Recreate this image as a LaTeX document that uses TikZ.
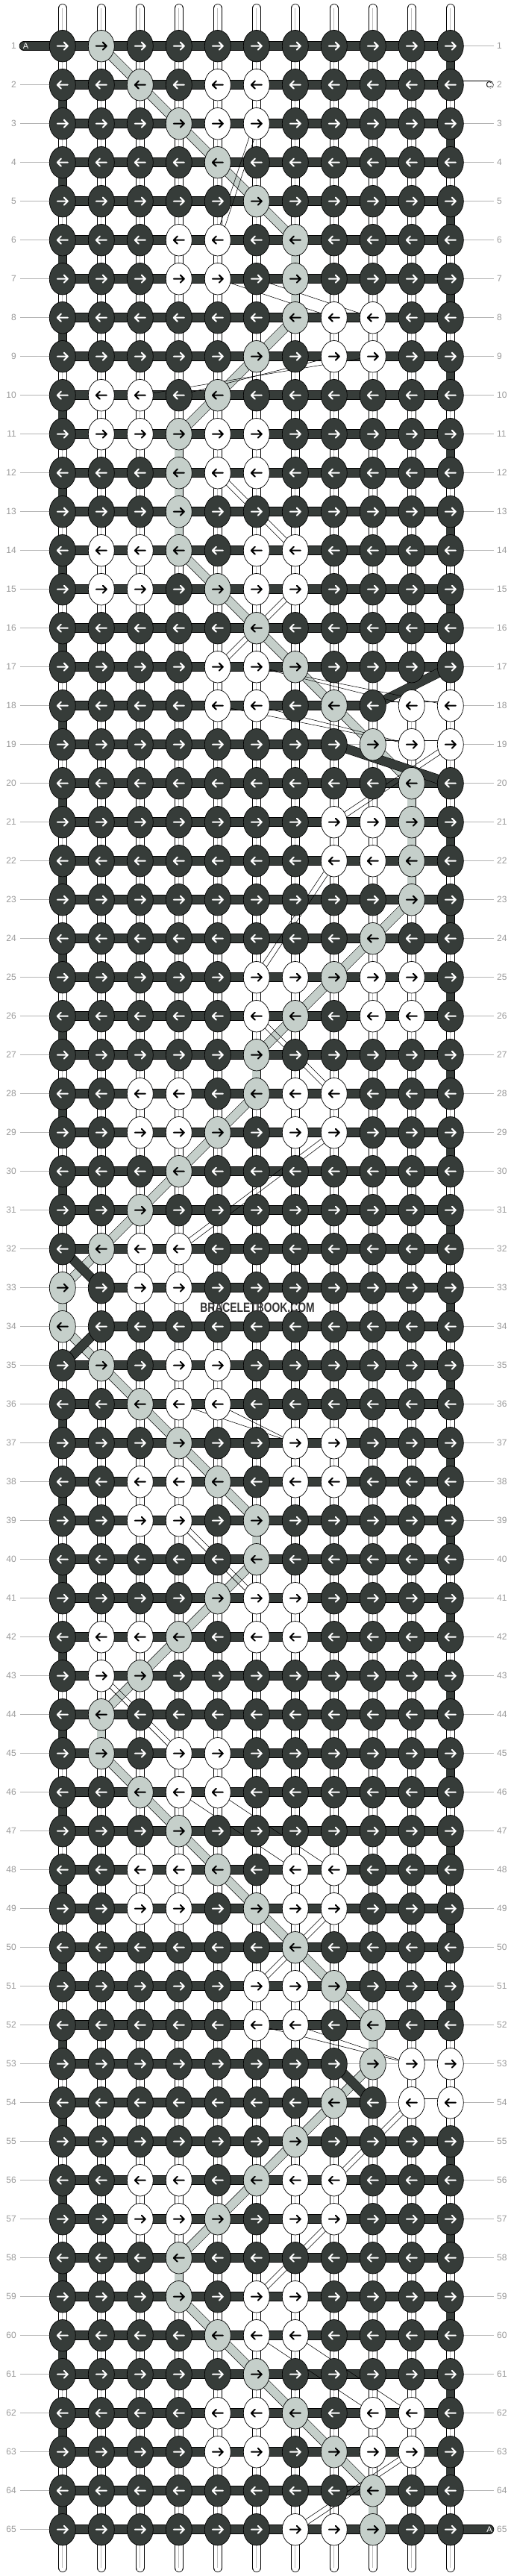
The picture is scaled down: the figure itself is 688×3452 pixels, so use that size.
\documentclass[tikz,border=0pt]{standalone}
\usepackage{fontspec}
\setmainfont{Liberation Sans}
\usetikzlibrary{calc,shapes.geometric}
\definecolor{dk}{HTML}{363C39}
\definecolor{gy}{HTML}{C5CFCA}
\definecolor{lb}{HTML}{9A9A9A}
\definecolor{tk}{HTML}{B4B4B4}
\definecolor{midln}{HTML}{BDBDBD}
\definecolor{wm}{HTML}{333333}
% horizontal bar exceptions (row-col of left knot)
\expandafter\def\csname hb-18-9\endcsname{W}
\expandafter\def\csname hb-18-10\endcsname{W}
\expandafter\def\csname hb-19-8\endcsname{N}
\expandafter\def\csname hb-19-9\endcsname{W}
\expandafter\def\csname hb-19-10\endcsname{W}
\expandafter\def\csname hb-33-1\endcsname{N}
\expandafter\def\csname hb-34-1\endcsname{N}
\expandafter\def\csname hb-53-8\endcsname{N}
\expandafter\def\csname hb-53-9\endcsname{N}
\expandafter\def\csname hb-53-10\endcsname{W}
\expandafter\def\csname hb-54-9\endcsname{N}
\expandafter\def\csname hb-54-10\endcsname{W}
\newcommand\gcols{2,3,4,5,6,7,7,7,6,5,4,4,4,4,5,6,7,8,9,10,10,10,10,9,8,7,6,6,5,4,3,2,1,1,2,3,4,5,6,6,5,4,3,2,2,3,4,5,6,7,8,9,9,8,7,6,5,4,4,5,6,7,8,9,9}
\newcommand\thinband[4]{%
  \draw[thinln] ($(p-#1-#2)!3.5pt!90:(p-#3-#4)$) -- ($(p-#3-#4)!3.5pt!-90:(p-#1-#2)$);
  \draw[thinln] ($(p-#1-#2)!3.5pt!-90:(p-#3-#4)$) -- ($(p-#3-#4)!3.5pt!90:(p-#1-#2)$);}
\newcommand\thinlink[4]{\draw[thinln] (p-#1-#2) -- (p-#3-#4);}
\tikzset{
  knotbase/.style={ellipse, draw=black, line width=0.7pt, minimum width=35pt, minimum height=42.5pt, inner sep=0pt},
  knotD/.style={knotbase, fill=dk},
  knotW/.style={knotbase, fill=white},
  knotG/.style={knotbase, fill=gy},
  arrD/.style={draw=white, line width=2pt, line cap=round, line join=round},
  arrW/.style={draw=black, line width=2pt, line cap=round, line join=round},
  arrG/.style={arrW},
  hbD/.style={draw=black, line width=0.6pt, double=dk, double distance=11.3pt},
  hbW/.style={draw=black, line width=0.6pt, double=white, double distance=10pt},
  hbN/.style={draw=tk, line width=0.8pt},
  vW/.style={draw=black, line width=0.6pt, double=white, double distance=10.5pt},
  vmid/.style={draw=midln, line width=0.7pt},
  bband/.style={draw=black, line width=0.6pt, double=gy, double distance=11pt},
  thinln/.style={draw=black, line width=0.55pt},
  tick/.style={draw=tk, line width=0.8pt},
  lbl/.style={text=lb, font=\fontsize{12}{12}\selectfont, inner sep=0pt},
  tailtxt/.style={font=\fontsize{11}{11}\selectfont, inner sep=0pt},
}
\begin{document}
\begin{tikzpicture}[x=1pt,y=-1pt]
\useasboundingbox (0,0) rectangle (688,3452);
\fill[white] (0,0) rectangle (688,3452);
% grid coordinates
\foreach \r in {1,...,65}{
  \foreach \c in {1,...,11}{
    \coordinate (p-\r-\c) at ({83.8+52*(\c-1)},{61.7+52*(\r-1)});
  }
}
\foreach \c in {1,...,11}{
  \coordinate (t-\c) at ({83.8+52*(\c-1)},11);
  \coordinate (b-\c) at ({83.8+52*(\c-1)},3441);
}
% row labels and ticks
\foreach \r in {1,...,65}{
  \pgfmathsetmacro\yy{61.7+52*(\r-1)}
  \node[lbl, anchor=east] (ll-\r) at (22,\yy) {\r};
  \node[lbl, anchor=west] (lr-\r) at (666,\yy) {\r};
  \ifnum\r>1 \draw[tick] ([xshift=5pt]ll-\r.east) -- (p-\r-1); \fi
  \ifnum\r=2 \else\ifnum\r=65 \else \draw[tick] (p-\r-11) -- ([xshift=-4pt]lr-\r.west); \fi\fi
}
% top and bottom string ends
\foreach \c in {1,...,11}{
  \draw[vW, line cap=round] (t-\c) -- (p-1-\c);
  \draw[vmid] (t-\c) -- (p-1-\c);
  \draw[vW, line cap=round] (p-65-\c) -- (b-\c);
  \draw[vmid] (p-65-\c) -- (b-\c);
}
% vertical segments between rows
\foreach \r in {1,...,64}{
  \pgfmathtruncatemacro\rn{\r+1}
  \foreach \c in {1,...,11}{
    \pgfmathtruncatemacro\ed{equal(\c,1)*equal(mod(\r,2),0)*notequal(\r,32)*notequal(\r,34)+equal(\c,11)*equal(mod(\r,2),1)*notequal(\r,17)*notequal(\r,19)*notequal(\r,53)}
    \ifnum\ed=1
      \draw[hbD] (p-\r-\c) -- (p-\rn-\c);
    \else
      \draw[vW] (p-\r-\c) -- (p-\rn-\c);
      \draw[vmid] (p-\r-\c) -- (p-\rn-\c);
    \fi
  }
}
% tails
\coordinate (tailA1) at (32,61.7);
\coordinate (tailC) at (656,113.7);
\coordinate (tailA2) at (656,3389.7);
\draw[hbD, line cap=round] (tailA1) -- (p-1-1);
\draw[hbW, line cap=round] (p-2-11) -- (tailC);
\draw[hbD, line cap=round] (p-65-11) -- (tailA2);
\node[tailtxt, text=white] (la1) at (34.5,61.7) {A};
\node[tailtxt, text=black] (lc) at (655.5,113.7) {C};
\node[tailtxt, text=white] (la2) at (656,3389.7) {A};
% horizontal bars
\foreach \r in {1,...,65}{
  \foreach \c in {1,...,10}{
    \pgfmathtruncatemacro\cn{\c+1}
    \edef\hbt{D}
    \ifcsname hb-\r-\c\endcsname \edef\hbt{\csname hb-\r-\c\endcsname}\fi
    \draw[hb\hbt] (p-\r-\c) -- (p-\r-\cn);
  }
}
% grey thread B
\foreach \g [count=\r, remember=\g as \gp (initially 0)] in \gcols {
  \ifnum\r>1 \pgfmathtruncatemacro\rp{\r-1}\draw[bband] (p-\rp-\gp) -- (p-\r-\g); \fi
}
% dark thread A turning diagonally
\draw[hbD] (p-17-11) -- (p-18-9);
\draw[hbD] (p-19-8) -- (p-20-11);
\draw[hbD] (p-32-1) -- (p-33-2);
\draw[hbD] (p-34-2) -- (p-35-1);
\draw[hbD] (p-53-8) -- (p-54-9);
% hidden thread paths
\thinband{3}{6}{6}{5}
\thinband{12}{5}{14}{7}
\thinband{15}{7}{17}{5}
\thinband{19}{11}{21}{8}
\thinband{22}{8}{25}{6}
\thinband{26}{6}{28}{8}
\thinband{29}{8}{32}{4}
\thinband{39}{4}{41}{6}
\thinband{43}{2}{45}{4}
\thinband{49}{8}{51}{6}
\thinband{54}{10}{56}{8}
\thinband{57}{8}{59}{6}
\thinband{63}{10}{65}{7}
\thinlink{7}{5}{8}{8}
\thinlink{7}{6}{8}{9}
\thinlink{9}{8}{10}{4}
\thinlink{9}{9}{10}{3}
\thinlink{17}{6}{18}{10}
\thinlink{17}{6}{18}{11}
\thinlink{18}{5}{19}{10}
\thinlink{18}{6}{19}{10}
\thinlink{36}{4}{37}{7}
\thinlink{36}{5}{37}{7}
\thinlink{46}{4}{48}{7}
\thinlink{46}{5}{48}{8}
\thinlink{52}{6}{53}{10}
\thinlink{52}{7}{53}{10}
\thinlink{60}{6}{62}{9}
\thinlink{60}{7}{62}{10}
% knots
\foreach \r/\s in {
1/{D,G,D,D,D,D,D,D,D,D,D},
2/{D,D,G,D,W,W,D,D,D,D,D},
3/{D,D,D,G,W,W,D,D,D,D,D},
4/{D,D,D,D,G,D,D,D,D,D,D},
5/{D,D,D,D,D,G,D,D,D,D,D},
6/{D,D,D,W,W,D,G,D,D,D,D},
7/{D,D,D,W,W,D,G,D,D,D,D},
8/{D,D,D,D,D,D,G,W,W,D,D},
9/{D,D,D,D,D,G,D,W,W,D,D},
10/{D,W,W,D,G,D,D,D,D,D,D},
11/{D,W,W,G,W,W,D,D,D,D,D},
12/{D,D,D,G,W,W,D,D,D,D,D},
13/{D,D,D,G,D,D,D,D,D,D,D},
14/{D,W,W,G,D,W,W,D,D,D,D},
15/{D,W,W,D,G,W,W,D,D,D,D},
16/{D,D,D,D,D,G,D,D,D,D,D},
17/{D,D,D,D,W,W,G,D,D,D,D},
18/{D,D,D,D,W,W,D,G,D,W,W},
19/{D,D,D,D,D,D,D,D,G,W,W},
20/{D,D,D,D,D,D,D,D,D,G,D},
21/{D,D,D,D,D,D,D,W,W,G,D},
22/{D,D,D,D,D,D,D,W,W,G,D},
23/{D,D,D,D,D,D,D,D,D,G,D},
24/{D,D,D,D,D,D,D,D,G,D,D},
25/{D,D,D,D,D,W,W,G,W,W,D},
26/{D,D,D,D,D,W,G,D,W,W,D},
27/{D,D,D,D,D,G,D,D,D,D,D},
28/{D,D,W,W,D,G,W,W,D,D,D},
29/{D,D,W,W,G,D,W,W,D,D,D},
30/{D,D,D,G,D,D,D,D,D,D,D},
31/{D,D,G,D,D,D,D,D,D,D,D},
32/{D,G,W,W,D,D,D,D,D,D,D},
33/{G,D,W,W,D,D,D,D,D,D,D},
34/{G,D,D,D,D,D,D,D,D,D,D},
35/{D,G,D,W,W,D,D,D,D,D,D},
36/{D,D,G,W,W,D,D,D,D,D,D},
37/{D,D,D,G,D,D,W,W,D,D,D},
38/{D,D,W,W,G,D,W,W,D,D,D},
39/{D,D,W,W,D,G,D,D,D,D,D},
40/{D,D,D,D,D,G,D,D,D,D,D},
41/{D,D,D,D,G,W,W,D,D,D,D},
42/{D,W,W,G,D,W,W,D,D,D,D},
43/{D,W,G,D,D,D,D,D,D,D,D},
44/{D,G,D,D,D,D,D,D,D,D,D},
45/{D,G,D,W,W,D,D,D,D,D,D},
46/{D,D,G,W,W,D,D,D,D,D,D},
47/{D,D,D,G,D,D,D,D,D,D,D},
48/{D,D,W,W,G,D,W,W,D,D,D},
49/{D,D,W,W,D,G,W,W,D,D,D},
50/{D,D,D,D,D,D,G,D,D,D,D},
51/{D,D,D,D,D,W,W,G,D,D,D},
52/{D,D,D,D,D,W,W,D,G,D,D},
53/{D,D,D,D,D,D,D,D,G,W,W},
54/{D,D,D,D,D,D,D,G,D,W,W},
55/{D,D,D,D,D,D,G,D,D,D,D},
56/{D,D,W,W,D,G,W,W,D,D,D},
57/{D,D,W,W,G,D,W,W,D,D,D},
58/{D,D,D,G,D,D,D,D,D,D,D},
59/{D,D,D,G,D,W,W,D,D,D,D},
60/{D,D,D,D,G,W,W,D,D,D,D},
61/{D,D,D,D,D,G,D,D,D,D,D},
62/{D,D,D,D,W,W,G,D,W,W,D},
63/{D,D,D,D,W,W,D,G,W,W,D},
64/{D,D,D,D,D,D,D,D,G,D,D},
65/{D,D,D,D,D,D,W,W,G,D,D}}{
  \pgfmathtruncatemacro\dir{ifthenelse(equal(mod(\r,2),1),1,-1)}
  \foreach \t [count=\c] in \s {
    \node[knot\t] (k-\r-\c) at (p-\r-\c) {};
    \draw[arr\t, shift={(k-\r-\c.center)}, xscale=\dir] (-7,0) -- (7,0) (2,-5) -- (7,0) -- (2,5);
  }
}
\node[text=wm, inner sep=0pt] (wmk) at (345,1752) {\fontsize{18}{18}\selectfont\bfseries\scalebox{0.77}[1]{BRACELETBOOK.COM}};
\end{tikzpicture}
\end{document}
